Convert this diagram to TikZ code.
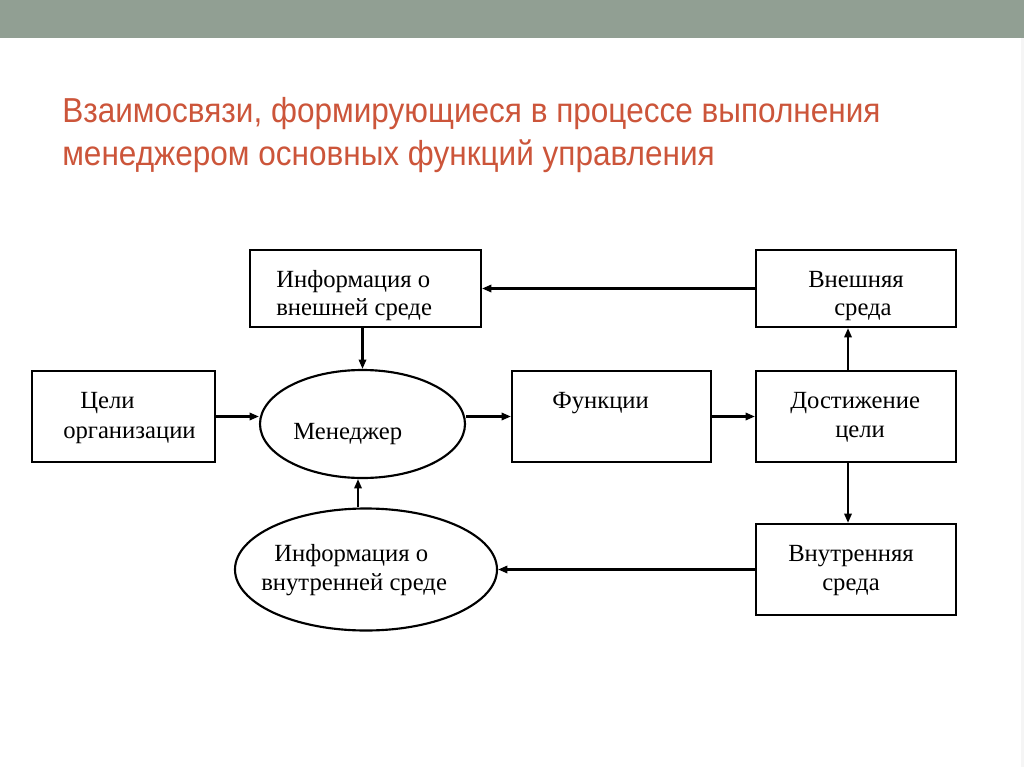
\documentclass[tikz,border=0pt]{standalone}
\usepackage{fontspec}
\setmainfont{Liberation Serif}
\newfontfamily\titlefont[FakeStretch=0.91]{Liberation Sans}
\usetikzlibrary{arrows.meta,shapes.geometric}
\definecolor{barcol}{HTML}{919F93}
\definecolor{titlecol}{HTML}{CC553A}
\begin{document}
\begin{tikzpicture}[x=0.75pt,y=-0.75pt,
  box/.style={draw,line width=1.6pt,inner sep=0pt,rectangle},
  oval/.style={draw,ellipse,line width=1.6pt,inner sep=0pt},
  lbl/.style={anchor=base west,inner sep=0pt,font=\fontsize{18.5}{22}\selectfont},
  conn/.style={line width=1.6pt,-{Triangle[length=7pt,width=5.5pt]}},
  ttl/.style={anchor=base west,inner sep=0pt,text=titlecol,font=\titlefont\fontsize{26}{31}\selectfont}]
\useasboundingbox (0,0) rectangle (1024,767);
\fill[white] (0,0) rectangle (1024,767);
\fill[barcol] (0,0) rectangle (1024,38);
\fill[black!4] (1021,38) rectangle (1024,767);
% title
\node[ttl] (title1) at (62,122.5) {Взаимосвязи, формирующиеся в процессе выполнения};
\node[ttl] (title2) at (62,165) {менеджером основных функций управления};
% shapes
\node[box,minimum width=173.25pt,minimum height=57.75pt] (iext) at (365.5,288.5) {};
\node[box,minimum width=137.25pt,minimum height=68.25pt] (goals) at (123.5,416.5) {};
\node[box,minimum width=149.25pt,minimum height=68.25pt] (func) at (611.5,416.5) {};
\node[box,minimum width=150pt,minimum height=68.25pt] (ach) at (856,416.5) {};
\node[box,minimum width=150pt,minimum height=57.75pt] (ext) at (856,288.5) {};
\node[box,minimum width=150pt,minimum height=68.25pt] (int) at (856,569.5) {};
\node[oval,minimum width=153.75pt,minimum height=81pt] (men) at (362.5,424) {};
\node[oval,minimum width=196.5pt,minimum height=91.5pt] (iint) at (366,569.5) {};
% texts
\node[lbl] (t1a) at (276,287) {Информация о};
\node[lbl] (t1b) at (276,315) {внешней среде};
\node[lbl] (t2a) at (80,408) {Цели};
\node[lbl] (t2b) at (63,438) {организации};
\node[lbl] (t3) at (293,439) {Менеджер};
\node[lbl] (t4) at (552,408) {Функции};
\node[lbl] (t5a) at (808,287) {Внешняя};
\node[lbl] (t5b) at (834,315) {среда};
\node[lbl] (t6a) at (790,408) {Достижение};
\node[lbl] (t6b) at (835,437) {цели};
\node[lbl] (t7a) at (788,561) {Внутренняя};
\node[lbl] (t7b) at (822,590) {среда};
\node[lbl] (t8a) at (274,561) {Информация о};
\node[lbl] (t8b) at (261,590) {внутренней среде};
% connectors
\coordinate (vx) at (358,0);
\draw[conn] (ext.west) -- (ext.west -| iext.east);
\draw[conn] (iext.south -| men.north) -- (men.north);
\draw[conn] (goals.east) -- (goals.east -| men.west);
\draw[conn] (func.west -| men.east) -- (func.west);
\draw[conn] (func.east) -- (ach.west);
\draw[conn] ([xshift=-6pt]ach.north) -- ([xshift=-6pt]ext.south);
\draw[conn] ([xshift=-6pt]ach.south) -- ([xshift=-6pt]int.north);
\draw[conn] (int.west) -- (int.west -| iint.east);
\draw[conn] (iint.north -| vx) -- (men.south -| vx);
\end{tikzpicture}
\end{document}
